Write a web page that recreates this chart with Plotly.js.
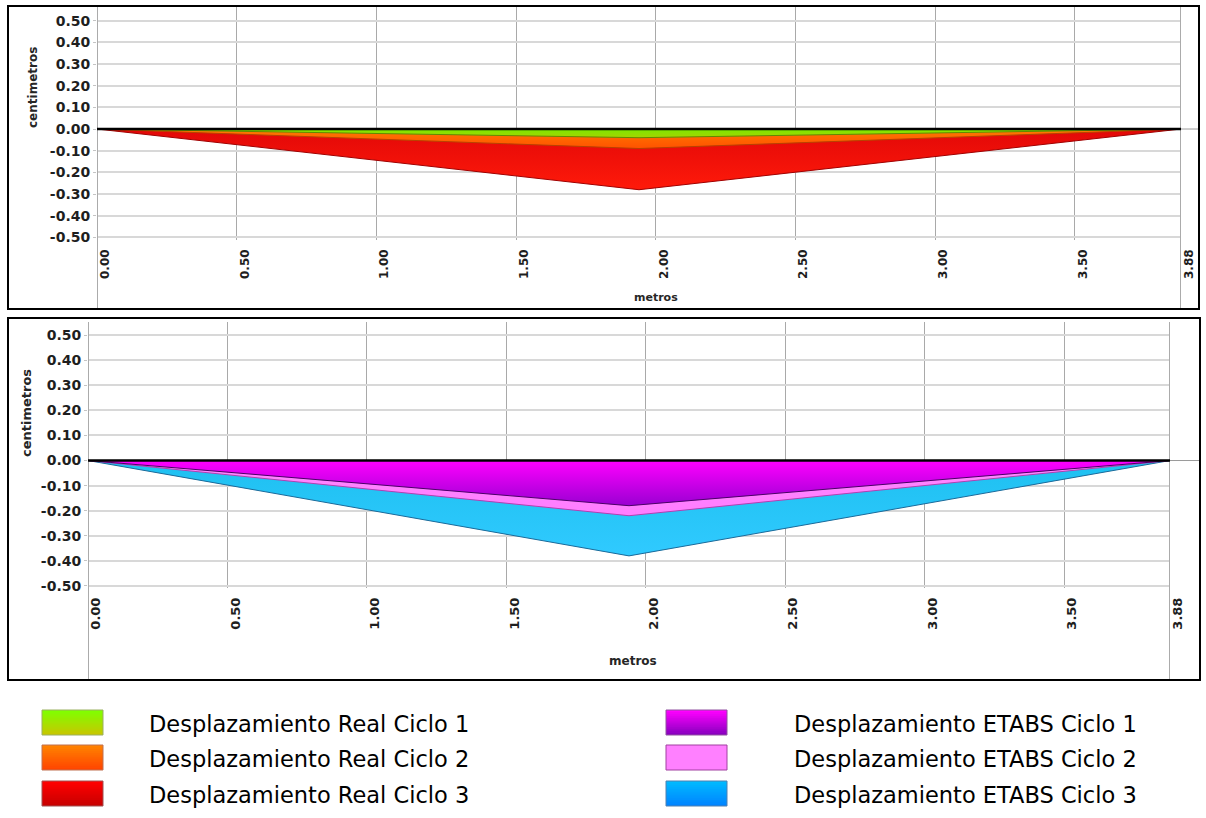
<!DOCTYPE html>
<html>
<head>
<meta charset="utf-8">
<script src="https://cdn.plot.ly/plotly-3.0.1.min.js"></script>
<style>
  html, body { margin: 0; padding: 0; background: #ffffff; }
  #chart { width: 1206px; height: 818px; }
</style>
</head>
<body>
<div id="chart"></div>
<script>
// Beam stations (m) and vertical displacement (cm) per load cycle
const stations = [0, 1.94, 3.88];

const realCiclo1 = [0, -0.04, 0];
const realCiclo2 = [0, -0.09, 0];
const realCiclo3 = [0, -0.28, 0];

const etabsCiclo1 = [0, -0.18, 0];
const etabsCiclo2 = [0, -0.22, 0];
const etabsCiclo3 = [0, -0.38, 0];

const realNames = ['Desplazamiento Real Ciclo 1', 'Desplazamiento Real Ciclo 2', 'Desplazamiento Real Ciclo 3'];
const etabsNames = ['Desplazamiento ETABS Ciclo 1', 'Desplazamiento ETABS Ciclo 2', 'Desplazamiento ETABS Ciclo 3'];

const xTickVals = [0, 0.5, 1, 1.5, 2, 2.5, 3, 3.5, 3.88];
const xTickText = ['0.00', '0.50', '1.00', '1.50', '2.00', '2.50', '3.00', '3.50', '3.88'];
const yTickVals = [0.5, 0.4, 0.3, 0.2, 0.1, 0, -0.1, -0.2, -0.3, -0.4, -0.5];
const yTickText = ['0.50', '0.40', '0.30', '0.20', '0.10', '0.00', '-0.10', '-0.20', '-0.30', '-0.40', '-0.50'];

const W = 1206, H = 818;
const px = v => v / W;
const py = v => 1 - v / H;

// Fill styles: [edge colour, gradient bottom, gradient top]
const realStyles = [
  ['#5f8a00', '#a6d400', '#7ae800'],
  ['#b84200', '#ff5200', '#ff7a00'],
  ['#a00000', '#ff1a0a', '#e20808']
];
const etabsStyles = [
  ['#4a0066', '#9a00d2', '#ff00ff'],
  ['#b040b0', '#ff7cff', '#ff88ff'],
  ['#1a6a9a', '#30caff', '#1ec0f0']
];

function areaTrace(y, style, name, xa, ya) {
  return {
    x: stations, y: y, name: name, xaxis: xa, yaxis: ya,
    type: 'scatter', mode: 'lines', fill: 'tozeroy',
    line: { color: style[0], width: 1 },
    fillgradient: { type: 'vertical', colorscale: [[0, style[1]], [1, style[2]]] },
    hoverinfo: 'x+y+name'
  };
}

// Deepest cycle drawn first so the shallower ones sit on top
const traces = [
  areaTrace(realCiclo3, realStyles[2], realNames[2], 'x', 'y'),
  areaTrace(realCiclo2, realStyles[1], realNames[1], 'x', 'y'),
  areaTrace(realCiclo1, realStyles[0], realNames[0], 'x', 'y'),
  areaTrace(etabsCiclo3, etabsStyles[2], etabsNames[2], 'x2', 'y2'),
  areaTrace(etabsCiclo2, etabsStyles[1], etabsNames[1], 'x2', 'y2'),
  areaTrace(etabsCiclo1, etabsStyles[0], etabsNames[0], 'x2', 'y2')
];

const tickFont = (s) => ({ family: 'DejaVu Sans', size: s, weight: 'bold', color: '#1e1e1e' });

function xAxis(domain, anchor, fs, shift) {
  return {
    domain: domain, anchor: anchor, range: [stations[0], stations[stations.length - 1]],
    tickmode: 'array', tickvals: xTickVals, ticktext: xTickText, tickangle: -90,
    tickfont: tickFont(fs), ticks: '', ticklabelshift: shift, ticklabelstandoff: 6,
    showgrid: true, gridcolor: '#a9a9a9', gridwidth: 1,
    zeroline: false, showline: false, fixedrange: true
  };
}
function yAxis(domain, anchor, range, fs) {
  return {
    domain: domain, anchor: anchor, range: range,
    tickmode: 'array', tickvals: yTickVals, ticktext: yTickText,
    tickfont: tickFont(fs), ticks: 'outside', ticklen: 3, tickcolor: '#c4c4c4',
    showgrid: true, gridcolor: '#d8d8d8', gridwidth: 2,
    zeroline: false, showline: false, fixedrange: true
  };
}

// Panel geometry in pixels
const panelTop = { box: [8, 6, 1199, 309], plot: [97, 7, 1181, 240] };
const panelBot = { box: [8, 318, 1200, 680], plot: [88, 322, 1170, 588] };

const shapes = [];
function panelShapes(p, xa, ya) {
  const last = stations[stations.length - 1];
  // axis lines at both ends of the beam, running down to the frame
  [stations[0], last].forEach(s => shapes.push({
    type: 'line', xref: xa, yref: 'paper', x0: s, x1: s,
    y0: py(p.box[3] - 1), y1: py(p.plot[1]),
    line: { color: '#ababab', width: 2 }, layer: 'above'
  }));
  // zero reference line over the beam
  shapes.push({
    type: 'line', xref: xa, yref: ya, x0: stations[0], x1: last, y0: 0, y1: 0,
    line: { color: '#000000', width: 2.5 }, layer: 'above'
  });
  shapes.push({
    type: 'line', xref: 'paper', yref: ya, x0: px(p.plot[2]), x1: px(p.box[2] - 1), y0: 0, y1: 0,
    line: { color: '#9a9a9a', width: 1 }, layer: 'above'
  });
  // frame
  shapes.push({
    type: 'rect', xref: 'paper', yref: 'paper',
    x0: px(p.box[0]), x1: px(p.box[2]), y0: py(p.box[3]), y1: py(p.box[1]),
    line: { color: '#000000', width: 2 }, fillcolor: 'rgba(0,0,0,0)', layer: 'above'
  });
}
panelShapes(panelTop, 'x', 'y');
panelShapes(panelBot, 'x2', 'y2');

// Legend swatches with vertical shading
function hexToRgb(h) { return [1, 3, 5].map(i => parseInt(h.substr(i, 2), 16)); }
function mix(a, b, t) {
  const A = hexToRgb(a), B = hexToRgb(b);
  return 'rgb(' + A.map((v, i) => Math.round(v + (B[i] - v) * t)).join(',') + ')';
}
const swatchTop = ['#80ff00', '#ff8200', '#ff0000', '#ff00ff', '#ff80ff', '#00baff'];
const swatchBot = ['#c6c800', '#ff4600', '#c80000', '#8a00c0', '#ff80ff', '#0084ff'];
const swatchEdge = ['#9ab060', '#c07050', '#a05050', '#9050a0', '#a040a0', '#5080b0'];
const legendRows = [710, 745, 781];
const legendCols = [{ sx: 42, tx: 147 }, { sx: 666, tx: 792 }];
const annotations = [];
const allNames = realNames.concat(etabsNames);
allNames.forEach((name, k) => {
  const col = legendCols[Math.floor(k / 3)];
  const y0 = legendRows[k % 3], hgt = 25, wid = 61;
  const n = 12;
  // each band runs to the swatch bottom; later bands cover earlier ones
  for (let i = 0; i < n; i++) {
    shapes.push({
      type: 'rect', xref: 'paper', yref: 'paper',
      x0: px(col.sx), x1: px(col.sx + wid),
      y0: py(y0 + hgt), y1: py(y0 + i * hgt / n),
      line: { width: 0 }, fillcolor: mix(swatchTop[k], swatchBot[k], i / (n - 1))
    });
  }
  shapes.push({
    type: 'rect', xref: 'paper', yref: 'paper',
    x0: px(col.sx), x1: px(col.sx + wid), y0: py(y0 + hgt), y1: py(y0),
    line: { color: swatchEdge[k], width: 1 }, fillcolor: 'rgba(0,0,0,0)'
  });
  annotations.push({
    xref: 'paper', yref: 'paper', x: px(col.tx), y: py(y0 + hgt / 2 + 1),
    xanchor: 'left', yanchor: 'middle', showarrow: false, text: name,
    font: { family: 'DejaVu Sans', size: 22.5, color: '#000000' }
  });
});

const titleFont = (s) => ({ family: 'DejaVu Sans', size: s, weight: 'bold', color: '#262626' });
function axisTitle(x, y, text, angle, fs) {
  return {
    xref: 'paper', yref: 'paper', x: px(x), y: py(y), xanchor: 'center', yanchor: 'middle',
    showarrow: false, text: text, textangle: angle, font: titleFont(fs)
  };
}
annotations.push(
  axisTitle(656, 298, 'metros', 0, 11),
  axisTitle(633, 661, 'metros', 0, 12),
  axisTitle(33, 88, 'centimetros', -90, 12),
  axisTitle(26, 413, 'centimetros', -90, 13)
);

const layout = {
  width: W, height: H,
  margin: { l: 0, r: 0, t: 0, b: 0 },
  paper_bgcolor: '#ffffff', plot_bgcolor: '#ffffff',
  showlegend: false,
  xaxis: xAxis([px(panelTop.plot[0]), px(panelTop.plot[2])], 'y', 12, 8),
  yaxis: yAxis([py(panelTop.plot[3]), py(panelTop.plot[1])], 'x', [-0.512, 0.563], 14),
  xaxis2: xAxis([px(panelBot.plot[0]), px(panelBot.plot[2])], 'y2', 13, 8),
  yaxis2: yAxis([py(panelBot.plot[3]), py(panelBot.plot[1])], 'x2', [-0.508, 0.552], 14),
  shapes: shapes,
  annotations: annotations
};

Plotly.newPlot('chart', traces, layout, { displayModeBar: false, staticPlot: true });
</script>
</body>
</html>
